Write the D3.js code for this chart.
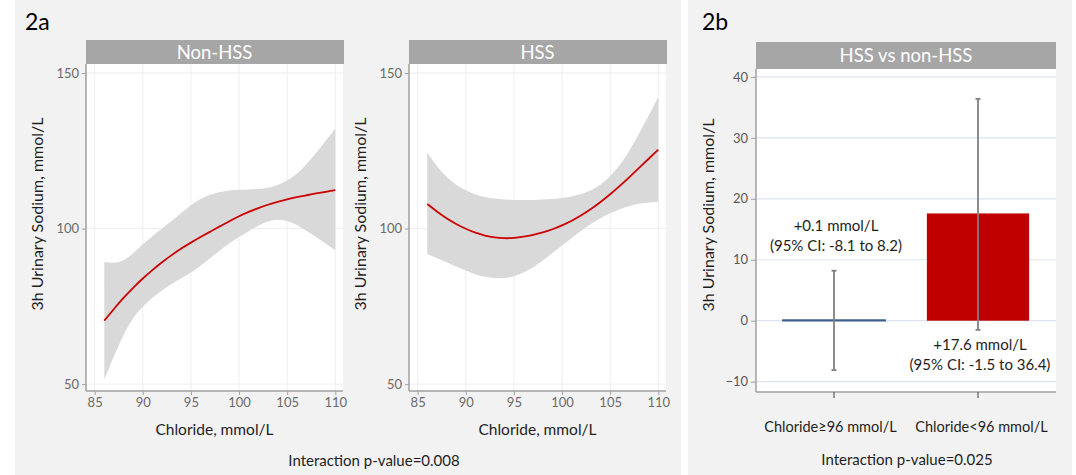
<!DOCTYPE html>
<html>
<head>
<meta charset="utf-8">
<script src="https://cdn.jsdelivr.net/npm/d3@7"></script>
<style>
  html, body { margin: 0; padding: 0; background: #ffffff; }
  svg { display: block; font-family: Lato, "Open Sans", sans-serif; }
</style>
</head>
<body>
<svg id="chart" width="1076" height="475"></svg>
<script>
// ---- Panel 2a: fitted 3h urinary sodium by serum chloride ----
const chloride = [86, 87, 88, 89, 90, 91, 92, 93, 94, 95, 96, 97, 98, 99, 100, 101, 102, 103, 104, 105, 106, 107, 108, 109, 110];

const nonHssFit   = [70.4, 74.2, 77.8, 81.0, 84.0, 86.7, 89.2, 91.5, 93.6, 95.5, 97.3, 99.0, 100.7, 102.4, 104.0, 105.4, 106.6, 107.7, 108.6, 109.4, 110.1, 110.7, 111.3, 111.8, 112.4];
const nonHssLower = [51.5, 59.0, 66.0, 71.5, 75.0, 77.8, 80.2, 82.2, 84.0, 85.8, 88.0, 90.5, 93.0, 95.3, 97.3, 99.2, 101.0, 102.4, 103.0, 102.6, 101.2, 99.3, 97.3, 95.2, 93.0];
const nonHssUpper = [89.2, 88.9, 89.5, 92.0, 95.0, 97.6, 100.0, 102.5, 105.0, 107.6, 109.6, 111.0, 111.8, 112.3, 112.5, 112.6, 112.7, 113.0, 114.0, 115.3, 117.5, 120.6, 124.2, 128.2, 132.2];

const hssFit   = [107.9, 105.45, 103.3, 101.45, 99.9, 98.65, 97.7, 97.1, 96.85, 96.95, 97.35, 97.95, 98.75, 99.75, 101.0, 102.5, 104.25, 106.25, 108.5, 111.0, 113.7, 116.55, 119.5, 122.45, 125.4];
const hssLower = [91.8, 90.5, 89.2, 87.8, 86.5, 85.3, 84.4, 84.0, 84.0, 84.6, 85.8, 87.5, 89.7, 92.1, 94.6, 97.0, 99.3, 101.5, 103.4, 105.0, 106.3, 107.3, 108.0, 108.4, 108.6];
const hssUpper = [124.4, 120.0, 116.5, 114.0, 112.2, 110.9, 110.1, 109.6, 109.3, 109.2, 109.2, 109.2, 109.3, 109.5, 109.8, 110.3, 111.0, 112.2, 114.0, 116.7, 120.3, 125.0, 130.5, 136.3, 142.3];

const chlorideTicks = [85, 90, 95, 100, 105, 110];
const sodiumTicks = [50, 100, 150];

// ---- Panel 2b: difference HSS vs non-HSS by chloride group ----
const groups = ["Chloride≥96 mmol/L", "Chloride<96 mmol/L"];
const diffValues = [0.1, 17.6];
const diffLow = [-8.1, -1.5];
const diffHigh = [8.2, 36.4];
const diffTicks = [-10, 0, 10, 20, 30, 40];
const diffLabels = [
  ["+0.1 mmol/L", "(95% CI: -8.1 to 8.2)"],
  ["+17.6 mmol/L", "(95% CI: -1.5 to 36.4)"]
];

const svg = d3.select("#chart");
const ink = "#1e1e1e";

// panel backgrounds
svg.append("rect").attr("x", 15).attr("y", 0).attr("width", 666).attr("height", 475).attr("fill", "#f2f2f2");
svg.append("rect").attr("x", 688).attr("y", 0).attr("width", 384).attr("height", 475).attr("fill", "#f2f2f2");

svg.append("text").attr("x", 25).attr("y", 30).attr("font-size", 23).attr("fill", "#000").text("2a");
svg.append("text").attr("x", 702).attr("y", 30).attr("font-size", 23).attr("fill", "#000").text("2b");

const axisGray = "#a0a0a0";

function smoothPanel(left, right, title, fit, lower, upper) {
  const top = 64, bottom = 391;
  const x = d3.scaleLinear().domain([84.1, 110.8]).range([left, right]);
  const y = d3.scaleLinear().domain([47.8, 152.9]).range([bottom, top]);

  const g = svg.append("g");
  // facet strip
  g.append("rect").attr("x", left).attr("y", 40).attr("width", right - left + 1).attr("height", 24).attr("fill", "#a6a6a6");
  g.append("text").attr("x", (left + right) / 2).attr("y", 58.5).attr("text-anchor", "middle")
    .attr("font-size", 18.5).attr("fill", "#ffffff").text(title);
  // plot area
  g.append("rect").attr("x", left).attr("y", top).attr("width", right - left).attr("height", bottom - top).attr("fill", "#ffffff");
  // grid
  g.selectAll("line.vg").data(chlorideTicks).join("line")
    .attr("x1", d => x(d)).attr("x2", d => x(d)).attr("y1", top).attr("y2", bottom)
    .attr("stroke", "#eeeeee").attr("stroke-width", 1);
  g.selectAll("line.hg").data(sodiumTicks).join("line")
    .attr("x1", left).attr("x2", right).attr("y1", d => y(d)).attr("y2", d => y(d))
    .attr("stroke", "#eeeeee").attr("stroke-width", 1);

  const rows = chloride.map((c, i) => ({ c, fit: fit[i], lo: lower[i], hi: upper[i] }));
  const area = d3.area().x(d => x(d.c)).y0(d => y(d.lo)).y1(d => y(d.hi)).curve(d3.curveBasis);
  g.append("path").datum(rows).attr("d", area).attr("fill", "#d9d9d9");
  const line = d3.line().x(d => x(d.c)).y(d => y(d.fit)).curve(d3.curveBasis);
  g.append("path").datum(rows).attr("d", line).attr("fill", "none").attr("stroke", "#cc0000").attr("stroke-width", 1.8);

  // axes
  const xa = g.append("g").attr("transform", `translate(0,${bottom})`)
    .call(d3.axisBottom(x).tickValues(chlorideTicks).tickSize(4).tickPadding(3));
  const ya = g.append("g").attr("transform", `translate(${left},0)`)
    .call(d3.axisLeft(y).tickValues(sodiumTicks).tickSize(4).tickPadding(3));
  [xa, ya].forEach(a => {
    a.select(".domain").attr("stroke", axisGray).attr("stroke-width", 1.5);
    a.selectAll(".tick line").attr("stroke", axisGray);
    a.selectAll(".tick text").attr("fill", "#6a6a6a").attr("font-size", 13).attr("font-family", "Lato, sans-serif");
  });
  ya.select(".domain").attr("d", `M0,${top}V${bottom}`);
  xa.select(".domain").attr("d", `M${left},0H${right}`);

  g.append("text").attr("x", (left + right) / 2).attr("y", 435).attr("text-anchor", "middle")
    .attr("font-size", 15.5).attr("fill", ink).text("Chloride, mmol/L");
  g.append("text").attr("transform", `translate(${left - 43},214) rotate(-90)`).attr("text-anchor", "middle")
    .attr("font-size", 16).attr("fill", ink).text("3h Urinary Sodium, mmol/L");
}

smoothPanel(86, 343, "Non-HSS", nonHssFit, nonHssLower, nonHssUpper);
smoothPanel(409, 666, "HSS", hssFit, hssLower, hssUpper);

svg.append("text").attr("x", 374).attr("y", 466).attr("text-anchor", "middle")
  .attr("font-size", 15).attr("fill", ink).text("Interaction p-value=0.008");

// ---- Panel 2b ----
(function () {
  const left = 756, right = 1056, top = 69, bottom = 392;
  const y = d3.scaleLinear().domain([-11.7, 41.3]).range([bottom, top]);
  const x = d3.scaleBand().domain(groups).range([762, 1050]).paddingInner(0.29).paddingOuter(0.145);
  const g = svg.append("g");

  g.append("rect").attr("x", left).attr("y", 42).attr("width", right - left).attr("height", 27).attr("fill", "#a6a6a6");
  g.append("text").attr("x", (left + right) / 2).attr("y", 62).attr("text-anchor", "middle")
    .attr("font-size", 18.5).attr("fill", "#ffffff").text("HSS vs non-HSS");
  g.append("rect").attr("x", left).attr("y", top).attr("width", right - left).attr("height", bottom - top).attr("fill", "#ffffff");

  g.selectAll("line.hg").data(diffTicks).join("line")
    .attr("x1", left).attr("x2", right).attr("y1", d => y(d)).attr("y2", d => y(d))
    .attr("stroke", "#dbe4f0").attr("stroke-width", 1.2);

  const rows = groups.map((k, i) => ({ k, v: diffValues[i], lo: diffLow[i], hi: diffHigh[i], lab: diffLabels[i], i }));
  const barColors = ["#3b5e8c", "#c00000"];
  const cx = k => x(k) + x.bandwidth() / 2;

  g.selectAll("rect.bar").data(rows).join("rect")
    .attr("x", d => x(d.k)).attr("width", x.bandwidth())
    .attr("y", d => y(Math.max(0, d.v))).attr("height", d => Math.abs(y(d.v) - y(0)))
    .attr("fill", d => barColors[d.i])
    .attr("stroke", d => d.i === 0 ? barColors[0] : "none").attr("stroke-width", 1.6);

  // confidence intervals
  const eb = g.selectAll("g.eb").data(rows).join("g").attr("stroke", "#808080").attr("stroke-width", 1.8);
  eb.append("line").attr("x1", d => cx(d.k)).attr("x2", d => cx(d.k)).attr("y1", d => y(d.lo)).attr("y2", d => y(d.hi));
  eb.append("line").attr("x1", d => cx(d.k) - 2.5).attr("x2", d => cx(d.k) + 2.5).attr("y1", d => y(d.lo)).attr("y2", d => y(d.lo));
  eb.append("line").attr("x1", d => cx(d.k) - 2.5).attr("x2", d => cx(d.k) + 2.5).attr("y1", d => y(d.hi)).attr("y2", d => y(d.hi));

  // value annotations: above the CI for the first group, below it for the second
  rows.forEach(d => {
    const base = d.i === 0 ? y(d.hi) - 40 : y(d.lo) + 20;
    d.lab.forEach((t, j) => {
      g.append("text").attr("x", cx(d.k) + 2).attr("y", base + j * 20).attr("text-anchor", "middle")
        .attr("font-size", 15).attr("fill", ink).text(t);
    });
  });

  const ya = g.append("g").attr("transform", `translate(${left},0)`)
    .call(d3.axisLeft(y).tickValues(diffTicks).tickSize(5).tickPadding(3));
  ya.select(".domain").attr("d", `M0,${top}V${bottom}`).attr("stroke", axisGray).attr("stroke-width", 1.5);
  ya.selectAll(".tick line").attr("stroke", axisGray);
  ya.selectAll(".tick text").attr("fill", "#595959").attr("font-size", 13).attr("font-family", "Lato, sans-serif");

  const xa = g.append("g").attr("transform", `translate(0,${bottom})`)
    .call(d3.axisBottom(x).tickSize(6).tickPadding(24));
  xa.select(".domain").attr("d", `M${left},0H${right}`).attr("stroke", axisGray).attr("stroke-width", 1.5);
  xa.selectAll(".tick line").attr("stroke", "#595959").attr("stroke-width", 1.2);
  xa.selectAll(".tick text").attr("fill", ink).attr("font-size", 14.5).attr("font-family", "Lato, sans-serif")
    .attr("dx", (d, i) => (i === 0 ? -3.5 : 3.5));

  g.append("text").attr("transform", `translate(710,215) rotate(-90)`).attr("text-anchor", "middle")
    .attr("dominant-baseline", "middle").attr("font-size", 16).attr("fill", ink).text("3h Urinary Sodium, mmol/L");
  g.append("text").attr("x", 907).attr("y", 465).attr("text-anchor", "middle")
    .attr("font-size", 15).attr("fill", ink).text("Interaction p-value=0.025");
})();
</script>
</body>
</html>
